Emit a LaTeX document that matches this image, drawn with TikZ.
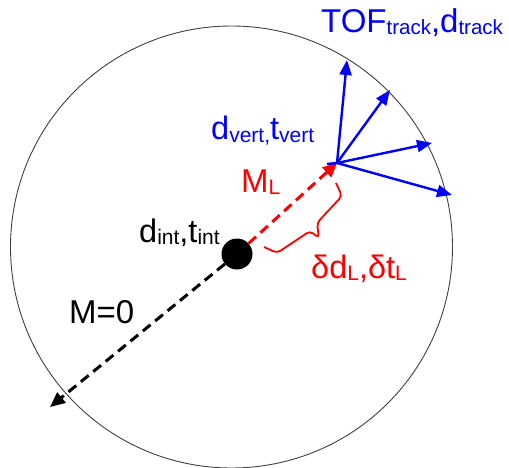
\documentclass[tikz,border=0pt]{standalone}
\usepackage{fontspec}
\setmainfont{Liberation Sans}
\usetikzlibrary{arrows.meta}
\newcommand\sbs[2]{\raisebox{-2pt}{\fontsize{#1}{#1}\selectfont #2}}
\definecolor{myblue}{RGB}{0,0,255}
\definecolor{myred}{RGB}{255,0,0}
\begin{document}
\begin{tikzpicture}[x=1pt,y=-1pt,
  lbl/.style={inner sep=0pt,anchor=base west},
  big/.style={font=\fontsize{33}{33}\selectfont},
  mid/.style={font=\fontsize{32.5}{32.5}\selectfont},
  trk/.style={draw=myblue,line width=2.4pt,-{Triangle[length=15pt,width=12pt]}},
  dsh/.style={line width=3pt,dash pattern=on 10pt off 6pt},
]
\useasboundingbox (0,0) rectangle (509,468);
\node[draw=black!75,line width=0.9pt,circle,minimum size=442pt,inner sep=0pt] (ring) at (231.5,247) {};
\node[fill=black,circle,minimum size=31pt,inner sep=0pt] (int) at (237,254) {};
\coordinate (vert) at (337,163);
\coordinate (stub) at (327,164);
\coordinate (t1) at (347,60);
\coordinate (t2) at (390,90);
\coordinate (t3) at (432,143);
\coordinate (t4) at (452,195);
\coordinate (m0) at (50,407);
\coordinate (bA) at (264,247);
\coordinate (bB) at (336,183);
% connectors
\draw[dsh,black,-{Triangle[length=15pt,width=13pt]}] (int) -- (m0);
\draw[dsh,myred,-{Triangle[length=14pt,width=13pt]}] (int) -- (vert);
\draw[trk] (vert) -- (t1);
\draw[trk] (vert) -- (t2);
\draw[trk] (vert) -- (t3);
\draw[trk] (vert) -- (t4);
\draw[myblue,line width=2.4pt] (vert) -- (stub);
\draw[myred,line width=1.8pt,rounded corners=4pt] (bA) -- (277,253) -- (310,231) -- (319,238) -- (317,223) -- (342,196) -- (bB);
% labels
\node[lbl,big,text=myblue] (tof) at (321,33) {TOF\sbs{20.5}{track},d\sbs{20.5}{track}};
\node[lbl,mid,text=myblue] (dvert) at (211,140) {d\sbs{21}{vert,}t\sbs{21}{vert}};
\node[lbl,big,text=myred] (ml) at (241,193) {M\sbs{21}{L}};
\node[lbl,mid,text=black] (dint) at (139,242) {d\sbs{21}{int},t\sbs{21}{int}};
\node[lbl,mid,text=myred] (dl) at (311,278) {δd\sbs{21}{L},δt\sbs{21}{L}};
\node[lbl,big,text=black] (m0l) at (69,323) {M=0};
\end{tikzpicture}
\end{document}
